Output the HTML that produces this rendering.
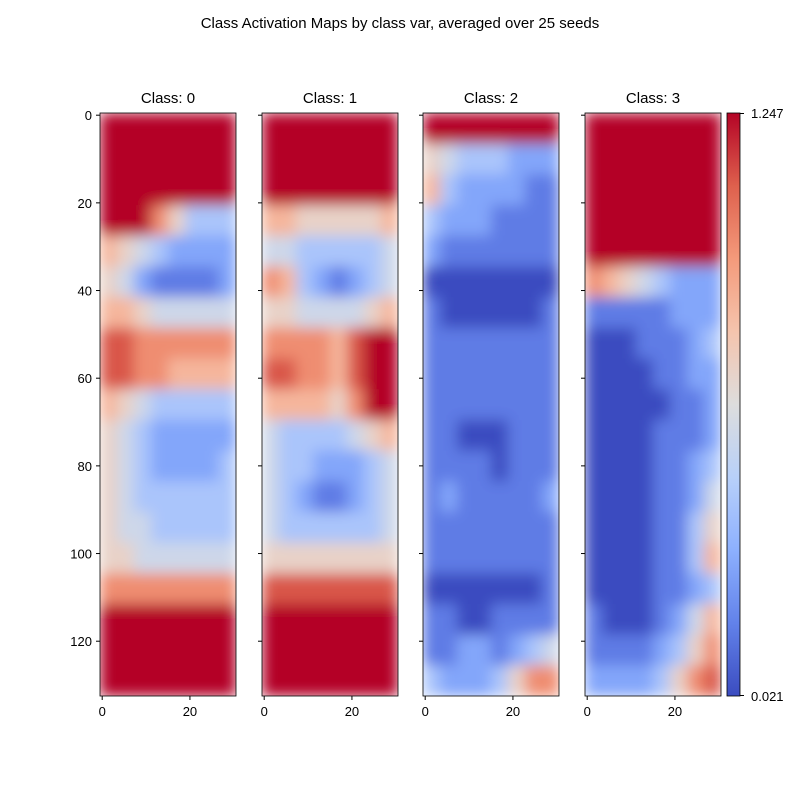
<!DOCTYPE html>
<html><head><meta charset="utf-8"><style>
body{margin:0;background:#fff;}
svg text{font-family:"Liberation Sans","DejaVu Sans",sans-serif;fill:#000;}
</style></head><body>
<svg id="chart" width="800" height="800" viewBox="0 0 800 800">
<defs>
<filter id="blur" x="0" y="0" width="1" height="1"><feGaussianBlur stdDeviation="7" edgeMode="duplicate"/></filter>
<linearGradient id="cbar" x1="0" y1="1" x2="0" y2="0">
<stop offset="0" stop-color="#3b4cc0"/><stop offset="0.125" stop-color="#6282ea"/><stop offset="0.25" stop-color="#8db0fe"/><stop offset="0.375" stop-color="#b8d0f9"/><stop offset="0.5" stop-color="#dddddd"/><stop offset="0.625" stop-color="#f5c4ad"/><stop offset="0.75" stop-color="#f49a7b"/><stop offset="0.875" stop-color="#de604d"/><stop offset="1" stop-color="#b40426"/>
</linearGradient>
</defs>
<text x="400" y="28" font-size="15" text-anchor="middle">Class Activation Maps by class var, averaged over 25 seeds</text>
<g id="panels"></g>
<g>
<rect x="727" y="113" width="13" height="583" fill="url(#cbar)" stroke="#000" stroke-width="0.8"/>
<line x1="740" y1="113.5" x2="744" y2="113.5" stroke="#000"/>
<line x1="740" y1="695.5" x2="744" y2="695.5" stroke="#000"/>
<text x="751" y="118" font-size="13">1.247</text>
<text x="751" y="701" font-size="13">0.021</text>
</g>
</svg>
<script>
const classes = ["Class: 0","Class: 1","Class: 2","Class: 3"];
const xTicks = [0,20];
const yTicks = [0,20,40,60,80,100,120];
const vmin = 0.021, vmax = 1.247;
// coarse grid: 19 row-bands (7 data rows each) x 8 col-bands; levels 0..9 of the colour range
const class0 = [
[9,9,9,9,9,9,9,9],[9,9,9,9,9,9,9,9],[9,9,9,9,9,9,9,9],[9,9,9,7,5,3,3,3],
[6,5,4,3,2,2,2,2],[5,4,2,1,1,1,1,2],[6,6,5,4,4,4,4,4],[8,8,7,7,7,7,7,7],
[8,8,7,7,6,6,6,6],[6,5,4,3,3,3,3,3],[5,4,3,2,2,2,2,2],[5,4,3,2,2,2,2,3],
[5,4,3,3,3,3,3,3],[5,4,4,3,3,3,3,3],[5,5,4,4,4,4,4,4],[7,7,7,7,7,7,7,7],
[9,9,9,9,9,9,9,9],[9,9,9,9,9,9,9,9],[9,9,9,9,9,9,9,9]];
const class1 = [
[9,9,9,9,9,9,9,9],[9,9,9,9,9,9,9,9],[9,9,9,9,9,9,9,9],[6,6,5,5,5,5,5,6],
[4,4,3,3,3,3,3,4],[7,6,3,2,1,2,3,4],[5,5,4,4,4,4,5,6],[7,7,7,7,6,8,9,9],
[8,8,7,7,6,8,9,9],[6,6,6,6,5,7,9,9],[4,3,3,3,3,4,5,6],[4,3,3,2,2,2,3,4],
[4,3,2,1,1,2,3,4],[4,3,3,3,3,3,3,4],[5,5,5,5,5,5,5,5],[8,8,8,8,8,8,8,8],
[9,9,9,9,9,9,9,9],[9,9,9,9,9,9,9,9],[9,9,9,9,9,9,9,9]];
const class2 = [
[9,9,9,9,9,9,9,9],[5,4,3,3,3,2,2,2],[6,3,2,2,2,2,1,1],[3,2,2,2,1,1,1,1],
[2,1,1,1,1,1,1,1],[0,0,0,0,0,0,0,0],[1,0,0,0,0,0,0,1],[1,1,1,1,1,1,1,1],
[1,1,1,1,1,1,1,1],[1,1,1,1,1,1,1,1],[1,1,0,0,0,1,1,1],[1,1,1,1,0,1,1,1],
[1,2,1,1,1,1,1,2],[1,1,1,1,1,1,1,1],[1,1,1,1,1,1,1,1],[0,0,0,0,0,0,0,1],
[1,1,0,0,1,1,1,1],[1,1,2,2,1,2,3,4],[3,2,2,2,3,5,7,7]];
const class3 = [
[9,9,9,9,9,9,9,9],[9,9,9,9,9,9,9,9],[9,9,9,9,9,9,9,9],[9,9,9,9,9,9,9,9],
[9,9,9,9,9,9,9,9],[7,6,5,4,3,2,2,2],[1,1,1,1,1,2,2,2],[0,0,0,1,1,1,2,3],
[0,0,0,0,1,1,2,2],[0,0,0,0,0,1,1,2],[0,0,0,0,1,1,1,2],[0,0,0,0,1,1,2,3],
[0,0,0,0,1,1,2,4],[0,0,0,0,1,1,3,5],[0,0,0,0,1,1,3,6],[0,0,0,0,1,1,2,3],
[1,0,0,0,1,2,4,6],[1,1,1,1,2,3,5,7],[2,2,2,2,3,5,7,8]];
const grids = [class0,class1,class2,class3];

const panelX = [100,262,423,585], panelW = 136, topY = 113, panelH = 583;
const nRows = 133, nCols = 31;
const stops = [[59,76,192],[98,130,234],[141,176,254],[184,208,249],[221,221,221],[245,196,173],[244,154,123],[222,96,77],[180,4,38]];
function cmap(t){t=Math.max(0,Math.min(1,t));const p=t*8,i=Math.min(7,Math.floor(p)),f=p-i;const a=stops[i],b=stops[i+1];return `rgb(${a.map((v,k)=>Math.round(v+(b[k]-v)*f)).join(',')})`;}
const NS="http://www.w3.org/2000/svg";
function el(tag,attrs,parent){const e=document.createElementNS(NS,tag);for(const k in attrs)e.setAttribute(k,attrs[k]);parent.appendChild(e);return e;}
const root=document.getElementById('panels');
grids.forEach((g,p)=>{
  const x0=panelX[p];
  const xs=c=>x0+(c+0.5)/nCols*panelW;
  const ys=r=>topY+(r+0.5)/nRows*panelH;
  const grp=el('g',{},root);
  
  
  const clip=el('clipPath',{id:'clip'+p},grp);
  el('rect',{x:x0,y:topY,width:panelW,height:panelH},clip);
  const outer=el('g',{'clip-path':`url(#clip${p})`},grp);
  const inner=el('g',{filter:'url(#blur)'},outer);
  const rb=nRows/g.length, cb=nCols/g[0].length;
  g.forEach((row,ri)=>row.forEach((lv,ci)=>{
    const val=vmin+(vmax-vmin)*lv/9;
    const xa=xs(ci*cb-0.5), xb=xs((ci+1)*cb-0.5), ya=ys(ri*rb-0.5), yb=ys((ri+1)*rb-0.5);
    const r=el('rect',{x:xa,y:ya,width:xb-xa+0.5,height:yb-ya+0.5,fill:cmap((val-vmin)/(vmax-vmin))},inner);
    
    
  }));
  el('rect',{x:x0,y:topY,width:panelW,height:panelH,fill:'none',stroke:'#000','stroke-width':0.8},grp);
  const t=el('text',{x:x0+panelW/2,y:103,'font-size':15,'text-anchor':'middle'},grp);
  t.textContent=classes[p];
  
  
  xTicks.forEach(v=>{
    el('line',{x1:xs(v),x2:xs(v),y1:696,y2:700,stroke:'#000'},grp);
    const tx=el('text',{x:xs(v),y:716,'font-size':13,'text-anchor':'middle'},grp);
    tx.textContent=v;
    
    
  });
  yTicks.forEach(v=>{
    el('line',{x1:x0-4,x2:x0,y1:ys(v),y2:ys(v),stroke:'#000'},grp);
    if(p===0){
      const ty=el('text',{x:x0-8,y:ys(v)+5,'font-size':13,'text-anchor':'end'},grp);
      ty.textContent=v;
      
      
    }
  });
});
</script>
</body></html>
